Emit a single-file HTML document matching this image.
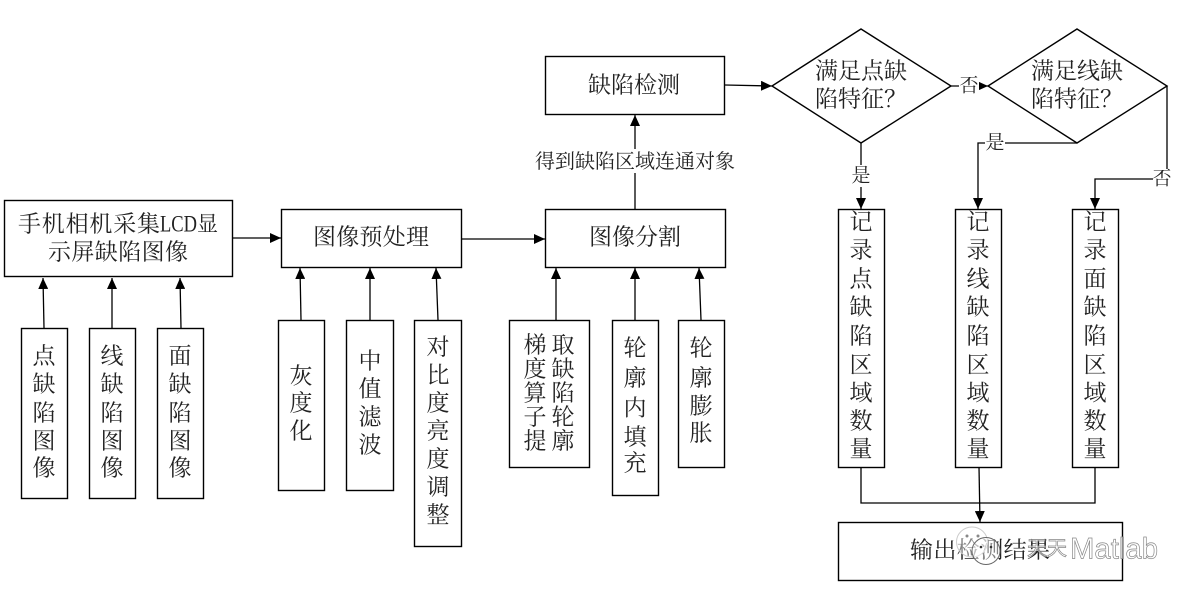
<!DOCTYPE html>
<html><head><meta charset="utf-8"><style>
html,body{margin:0;padding:0;background:#fff;width:1198px;height:600px;overflow:hidden}
svg{display:block}
text{font-family:"Liberation Serif","Noto Serif CJK SC",serif;font-size:23px;fill:#222;text-anchor:middle;dominant-baseline:central}
.b{fill:#fff;stroke:#000;stroke-width:1.4}
.l{fill:none;stroke:#000;stroke-width:1.3}
.a{marker-end:url(#m)}
.w{fill:#fff;stroke:none}
.s{text-anchor:start}
.wm{fill:#fff;fill-opacity:.55;stroke:#888;stroke-width:.7;font-family:"Liberation Sans","Noto Sans CJK SC",sans-serif}
</style></head><body>
<svg width="1198" height="600" viewBox="0 0 1198 600" xmlns="http://www.w3.org/2000/svg">
<defs><marker id="m" markerUnits="userSpaceOnUse" markerWidth="12" markerHeight="10" refX="11" refY="5" orient="auto"><path d="M0,0L11,5L0,10Z" fill="#000"/></marker></defs>

<rect class="b" x="4.5" y="200.5" width="228" height="76"/>
<rect class="b" x="281.5" y="209.5" width="180" height="58"/>
<rect class="b" x="545.5" y="209.5" width="180" height="58"/>
<rect class="b" x="545.5" y="56.5" width="179" height="58"/>
<rect class="b" x="21.5" y="328.5" width="46" height="170"/>
<rect class="b" x="89.5" y="328.5" width="46" height="170"/>
<rect class="b" x="157.5" y="328.5" width="46" height="170"/>
<rect class="b" x="278.5" y="320.5" width="46" height="170"/>
<rect class="b" x="346.5" y="320.5" width="47" height="170"/>
<rect class="b" x="414.5" y="320.5" width="47" height="226"/>
<rect class="b" x="509.5" y="320.5" width="80" height="147"/>
<rect class="b" x="612.5" y="320.5" width="46" height="175"/>
<rect class="b" x="678.5" y="320.5" width="46" height="147"/>
<rect class="b" x="838.5" y="209.5" width="46" height="258"/>
<rect class="b" x="955.5" y="209.5" width="46" height="258"/>
<rect class="b" x="1072.5" y="209.5" width="46" height="258"/>
<rect class="b" x="838.5" y="522.5" width="284" height="58"/>
<path class="b" d="M772,86L861,29L951,86L861,143Z"/>
<path class="b" d="M988,86L1077,29L1167,86L1077,143Z"/>

<path class="l a" d="M44,328L43,278"/>
<path class="l a" d="M112,328L112,278"/>
<path class="l a" d="M181,328L180,278"/>
<path class="l a" d="M301,320L300,268"/>
<path class="l a" d="M370,320L370,268"/>
<path class="l a" d="M438,320L436,268"/>
<path class="l a" d="M556,320L556,268"/>
<path class="l a" d="M635,320L635,268"/>
<path class="l a" d="M701,320L699,268"/>
<path class="l a" d="M232,238L281,238"/>
<path class="l a" d="M461,239L545,239"/>
<path class="l a" d="M635,209L635,115"/>
<path class="l a" d="M725,85L772,86"/>
<path class="l a" d="M951,86L988,86"/>
<path class="l a" d="M861,143L861,209"/>
<path class="l a" d="M1077,143L978,143L978,209"/>
<path class="l a" d="M1167,86L1167,179L1095,179L1095,209"/>
<path class="l" d="M861,467L861,503L1095,503L1095,467"/>
<path class="l a" d="M979,467L980,522"/>

<rect class="w" x="533" y="149" width="204" height="24"/>
<rect class="w" x="959" y="74" width="20" height="24"/>
<rect class="w" x="851" y="165" width="20" height="22"/>
<rect class="w" x="985" y="133" width="20" height="20"/>
<rect class="w" x="1153" y="169" width="18" height="20"/>

<g transform="translate(0,2)">
<text class="s" x="18" y="222" textLength="142" lengthAdjust="spacing">手机相机采集</text>
<text class="s" x="160" y="222" textLength="37" lengthAdjust="spacingAndGlyphs">LCD</text>
<text class="s" x="197" y="222" style="font-size:21px">显</text>
<text x="118" y="250" textLength="140" lengthAdjust="spacing">示屏缺陷图像</text>
<text x="371" y="235" textLength="116" lengthAdjust="spacing">图像预处理</text>
<text x="635" y="235" textLength="92" lengthAdjust="spacing">图像分割</text>
<text x="634" y="83" textLength="92" lengthAdjust="spacing">缺陷检测</text>
<text x="635" y="160" style="font-size:20px">得到缺陷区域连通对象</text>
<text class="s" x="815" y="69">满足点缺</text>
<text class="s" x="815" y="97">陷特征？</text>
<text class="s" x="1031" y="69">满足线缺</text>
<text class="s" x="1031" y="97">陷特征？</text>
<text x="969" y="84" style="font-size:19px">否</text>
<text x="861" y="174" style="font-size:19px">是</text>
<text x="995" y="141" style="font-size:19px">是</text>
<text x="1162" y="177" style="font-size:19px">否</text>

<text x="44" y="354">点</text><text x="44" y="382">缺</text><text x="44" y="411">陷</text><text x="44" y="439">图</text><text x="44" y="466">像</text>
<text x="112" y="354">线</text><text x="112" y="382">缺</text><text x="112" y="411">陷</text><text x="112" y="439">图</text><text x="112" y="466">像</text>
<text x="180" y="354">面</text><text x="180" y="382">缺</text><text x="180" y="411">陷</text><text x="180" y="439">图</text><text x="180" y="466">像</text>
<text x="301" y="374">灰</text><text x="301" y="401">度</text><text x="301" y="429">化</text>
<text x="370" y="359">中</text><text x="370" y="387">值</text><text x="370" y="415">滤</text><text x="370" y="443">波</text>
<text x="438" y="345">对</text><text x="438" y="373">比</text><text x="438" y="401">度</text><text x="438" y="429">亮</text><text x="438" y="457">度</text><text x="438" y="485">调</text><text x="438" y="513">整</text>
<text x="535" y="343">梯</text><text x="535" y="367">度</text><text x="535" y="391">算</text><text x="535" y="415">子</text><text x="535" y="439">提</text>
<text x="563" y="343">取</text><text x="563" y="367">缺</text><text x="563" y="391">陷</text><text x="563" y="415">轮</text><text x="563" y="439">廓</text>
<text x="635" y="346">轮</text><text x="635" y="376">廓</text><text x="635" y="406">内</text><text x="635" y="435">填</text><text x="635" y="461">充</text>
<text x="701" y="346">轮</text><text x="701" y="376">廓</text><text x="701" y="404">膨</text><text x="701" y="431">胀</text>

<text x="861" y="220">记</text><text x="861" y="248">录</text><text x="861" y="277">点</text><text x="861" y="305">缺</text><text x="861" y="334">陷</text><text x="861" y="363">区</text><text x="861" y="391">域</text><text x="861" y="419">数</text><text x="861" y="447">量</text>
<text x="978" y="220">记</text><text x="978" y="248">录</text><text x="978" y="277">线</text><text x="978" y="305">缺</text><text x="978" y="334">陷</text><text x="978" y="363">区</text><text x="978" y="391">域</text><text x="978" y="419">数</text><text x="978" y="447">量</text>
<text x="1095" y="220">记</text><text x="1095" y="248">录</text><text x="1095" y="277">面</text><text x="1095" y="305">缺</text><text x="1095" y="334">陷</text><text x="1095" y="363">区</text><text x="1095" y="391">域</text><text x="1095" y="419">数</text><text x="1095" y="447">量</text>

<text x="980" y="548" textLength="140" lengthAdjust="spacing">输出检测结果</text>
</g>
<ellipse cx="972" cy="542" rx="15.5" ry="15" fill="#fff" fill-opacity=".45" stroke="#ccc"/>
<ellipse cx="986" cy="551" rx="14" ry="13.5" fill="#fff" fill-opacity=".45" stroke="#666"/>
<circle cx="967" cy="536" r="1.5" fill="#888"/><circle cx="978" cy="536" r="1.5" fill="#888"/>
<circle cx="981" cy="547" r="1.3" fill="#333"/><circle cx="991" cy="547" r="1.3" fill="#333"/>
<text class="wm" x="1037" y="549" style="font-size:20px">天</text>
<text class="wm" x="1057" y="549" style="font-size:20px">天</text>
<text class="wm" x="1114" y="549" style="font-size:30px" textLength="88" lengthAdjust="spacingAndGlyphs">Matlab</text>
</svg>
</body></html>
